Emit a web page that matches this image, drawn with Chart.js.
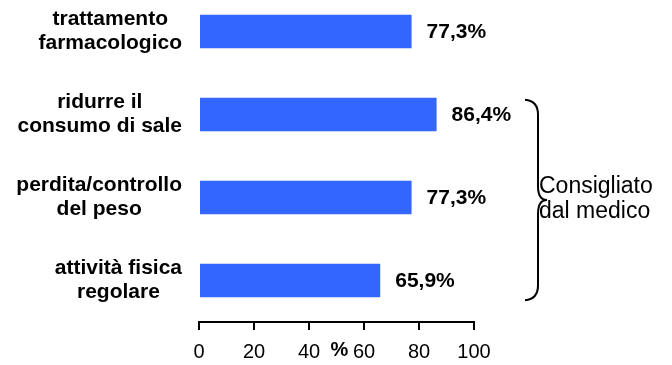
<!DOCTYPE html>
<html>
<head>
<meta charset="utf-8">
<script src="https://cdn.jsdelivr.net/npm/chart.js@4"></script>
<style>
  html, body { margin: 0; padding: 0; background: #fff; overflow: hidden; }
  #wrap { position: absolute; left: 0; top: -10px; width: 672px; height: 375px; }
</style>
</head>
<body>
<div id="wrap"><canvas id="myChart"></canvas></div>
<script>
const categories = [
    ['trattamento', 'farmacologico'],
    ['ridurre il', 'consumo di sale'],
    ['perdita/controllo', 'del peso'],
    ['attività fisica', 'regolare']
];
const values = [77.3, 86.4, 77.3, 65.9];
const xTicks = [0, 20, 40, 60, 80, 100];
const axisTitle = '%';
const braceText = ['Consigliato', 'dal medico'];
const braceFrom = 1, braceTo = 3;

const FONT = '"Liberation Sans", Arial, sans-serif';

function fmt(v) {
    return v.toFixed(1).replace('.', ',') + '%'
}

// category labels, value labels, "%" title and the brace
const extras = {
    id: 'extras',
    afterDatasetsDraw(chart) {
        const ctx = chart.ctx;
        const area = chart.chartArea;
        const bars = chart.getDatasetMeta(0).data;
        const xs = chart.scales.x;
        ctx.save();
        ctx.fillStyle = '#000';

        // left labels: block right-aligned, lines centred inside block
        ctx.font = 'bold 21px ' + FONT;
        ctx.textAlign = 'center';
        ctx.textBaseline = 'middle';
        const lh = 24;
        categories.forEach((lines, i) => {
            const w = Math.max(...lines.map(l => ctx.measureText(l).width));
            const cx = area.left - 17 - w / 2;
            const y0 = bars[i].y - (lines.length - 1) * lh / 2;
            lines.forEach((l, j) => ctx.fillText(l, cx, y0 + j * lh));
        });

        // value labels
        ctx.textAlign = 'left';
        bars.forEach((b, i) => ctx.fillText(fmt(values[i]), b.x + 15, b.y + 1));

        // axis title between ticks
        ctx.font = 'bold 20px ' + FONT;
        ctx.textAlign = 'center';
        ctx.textBaseline = 'top';
        ctx.fillText(axisTitle, xs.getPixelForValue(50) + 3, xs.top + 18);

        // brace
        const top = bars[braceFrom].y - bars[braceFrom].height / 2 + 2;
        const bot = bars[braceTo].y + bars[braceTo].height / 2 + 3;
        const mid = (top + bot) / 2;
        const bx = area.right + 64;
        ctx.strokeStyle = '#000';
        ctx.lineWidth = 2;
        ctx.beginPath();
        ctx.moveTo(bx - 13, top);
        ctx.quadraticCurveTo(bx, top + 1, bx, top + 15);
        ctx.lineTo(bx, mid - 14);
        ctx.quadraticCurveTo(bx, mid, bx + 9, mid);
        ctx.quadraticCurveTo(bx, mid, bx, mid + 14);
        ctx.lineTo(bx, bot - 15);
        ctx.quadraticCurveTo(bx, bot - 1, bx - 13, bot);
        ctx.stroke();

        ctx.font = '23px ' + FONT;
        ctx.textAlign = 'left';
        ctx.textBaseline = 'alphabetic';
        ctx.fillText(braceText[0], bx + 1, mid - 7);
        ctx.fillText(braceText[1], bx + 1, mid + 18);
        ctx.restore();
    }
};

const ctx = document.getElementById('myChart');
const chartGraphic = new Chart(ctx, {
    type: 'bar',
    data: {
        labels: categories,
        datasets: [
            {
                data: values,
                backgroundColor: '#3366FF',
                borderWidth: 0,
                categoryPercentage: 1,
                barPercentage: 0.405
            }
        ]
    },
    options: {
        indexAxis: 'y',
        responsive: true,
        maintainAspectRatio: false,
        animation: false,
        layout: {
            padding: { left: 199, right: 198, top: 0, bottom: 0 }
        },
        plugins: {
            legend: { display: false },
            tooltip: { enabled: false }
        },
        scales: {
            x: {
                min: 0,
                max: 100,
                afterBuildTicks: s => { s.ticks = xTicks.map(v => ({ value: v })); },
                afterFit: s => { s.height = 43; },
                border: { color: '#000', width: 2 },
                grid: { drawOnChartArea: false, color: '#000', lineWidth: 2, tickLength: 8 },
                ticks: {
                    color: '#000',
                    padding: 10,
                    font: { family: FONT, size: 20 }
                }
            },
            y: {
                display: false
            }
        }
    },
    plugins: [extras]
});
</script>
</body>
</html>
